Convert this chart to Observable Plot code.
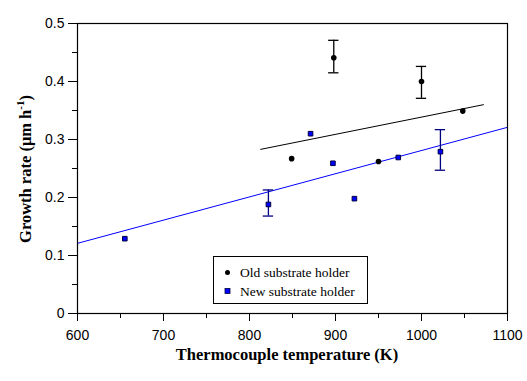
<!DOCTYPE html>
<html><head><meta charset="utf-8">
<script src="https://cdn.jsdelivr.net/npm/d3@7"></script>
<script src="https://cdn.jsdelivr.net/npm/@observablehq/plot@0.6"></script>
<style>body{margin:0;background:#fff}</style>
</head><body><div id="chart"></div>
<script>
// Old substrate holder
const oldX = [849, 898, 950, 1000, 1048];
const oldY = [0.267, 0.441, 0.262, 0.400, 0.349];
const oldErrX = [898, 1000];
const oldErrLo = [0.415, 0.371];
const oldErrHi = [0.471, 0.426];
const oldFitX = [813, 1072];
const oldFitY = [0.283, 0.360];
// New substrate holder
const newX = [655, 822, 871, 897, 922, 973, 1022];
const newY = [0.129, 0.188, 0.310, 0.259, 0.198, 0.269, 0.279];
const newErrX = [822, 1022];
const newErrLo = [0.168, 0.247];
const newErrHi = [0.213, 0.317];
const newFitX = [600, 1100];
const newFitY = [0.121, 0.321];
// ticks
const xMajor = [600, 700, 800, 900, 1000, 1100];
const xTickLabels = ["600", "700", "800", "900", "1000", "1100"];
const xMinor = [650, 750, 850, 950, 1050];
const yMajor = [0, 0.1, 0.2, 0.3, 0.4, 0.5];
const yMinor = [0.05, 0.15, 0.25, 0.35, 0.45];
const yTickLabels = ["0", "0.1", "0.2", "0.3", "0.4", "0.5"];
const seriesNames = ["Old substrate holder", "New substrate holder"];
const capHalf = 6;

const oldPts = oldX.map((x, i) => ({x, y: oldY[i]}));
const newPts = newX.map((x, i) => ({x, y: newY[i]}));
const oldErr = oldErrX.map((x, i) => ({x, lo: oldErrLo[i], hi: oldErrHi[i]}));
const newErr = newErrX.map((x, i) => ({x, lo: newErrLo[i], hi: newErrHi[i]}));
const oldFit = oldFitX.map((x, i) => ({x, y: oldFitY[i]}));
const newFit = newFitX.map((x, i) => ({x, y: newFitY[i]}));

const chart = Plot.plot({
  width: 527, height: 381,
  marginLeft: 77, marginRight: 20, marginTop: 23, marginBottom: 68,
  style: {fontFamily: "Liberation Sans, Arial, sans-serif", fontSize: "14px", background: "#fff", color: "#000"},
  x: {domain: [600, 1100]},
  y: {domain: [0, 0.5]},
  marks: [
    Plot.axisX(xMinor, {tickSize: 5, text: null, label: null}),
    Plot.axisX(xMajor, {tickSize: 8, tickPadding: 9, label: null, tickFormat: (d, i) => xTickLabels[i]}),
    Plot.axisY(yMinor, {tickSize: 5, text: null, label: null}),
    Plot.axisY(yMajor, {tickSize: 9, tickPadding: 4, label: null, tickFormat: (d, i) => yTickLabels[i]}),
    Plot.line(newFit, {x: "x", y: "y", stroke: "#0000ff", strokeWidth: 1}),
    Plot.line(oldFit, {x: "x", y: "y", stroke: "#000", strokeWidth: 1}),
    Plot.ruleX(oldErr, {x: "x", y1: "lo", y2: "hi", stroke: "#000", strokeWidth: 1.3}),
    Plot.ruleY(oldErr, {y: "lo", x1: d => d.x - capHalf, x2: d => d.x + capHalf, stroke: "#000", strokeWidth: 1.3}),
    Plot.ruleY(oldErr, {y: "hi", x1: d => d.x - capHalf, x2: d => d.x + capHalf, stroke: "#000", strokeWidth: 1.3}),
    Plot.ruleX(newErr, {x: "x", y1: "lo", y2: "hi", stroke: "#000080", strokeWidth: 1.3}),
    Plot.ruleY(newErr, {y: "lo", x1: d => d.x - capHalf, x2: d => d.x + capHalf, stroke: "#000080", strokeWidth: 1.3}),
    Plot.ruleY(newErr, {y: "hi", x1: d => d.x - capHalf, x2: d => d.x + capHalf, stroke: "#000080", strokeWidth: 1.3}),
    Plot.dot(oldPts, {x: "x", y: "y", r: 2.8, fill: "#000", stroke: "none"}),
    Plot.dot(newPts, {x: "x", y: "y", symbol: "square", r: 2.6, fill: "#0000ff", stroke: "#000040", strokeWidth: 1}),
    Plot.frame({stroke: "#000", strokeWidth: 1.2})
  ]
});

const svg = d3.select(chart);
const serif = "Liberation Serif, Times New Roman, serif";
// x axis label
svg.append("text")
  .attr("x", 287).attr("y", 360)
  .attr("text-anchor", "middle")
  .attr("font-family", serif).attr("font-weight", "bold").attr("font-size", 16.5)
  .text("Thermocouple temperature (K)");
// y axis label
const yl = svg.append("text")
  .attr("transform", "translate(31,169) rotate(-90)")
  .attr("text-anchor", "middle")
  .attr("font-family", serif).attr("font-weight", "bold").attr("font-size", 16.5);
yl.append("tspan").text("Growth rate (μm h");
yl.append("tspan").attr("font-size", 11).attr("dy", -7).text("-1");
yl.append("tspan").attr("dy", 7).text(")");
// legend
const lg = svg.append("g").attr("font-family", serif).attr("font-size", 13.5).attr("text-anchor", "start");
lg.append("rect").attr("x", 213.5).attr("y", 256.5).attr("width", 154).attr("height", 47)
  .attr("fill", "#fff").attr("stroke", "#000").attr("stroke-width", 1);
lg.append("circle").attr("cx", 227.5).attr("cy", 272.5).attr("r", 2.5).attr("fill", "#000");
lg.append("rect").attr("x", 225).attr("y", 288.5).attr("width", 5).attr("height", 5).attr("fill", "#0000ff").attr("stroke", "#000040").attr("stroke-width", 0.8);
lg.append("text").attr("x", 240).attr("y", 277).text(seriesNames[0]);
lg.append("text").attr("x", 240).attr("y", 296).text(seriesNames[1]);

document.getElementById("chart").appendChild(chart);
</script>
</body></html>
